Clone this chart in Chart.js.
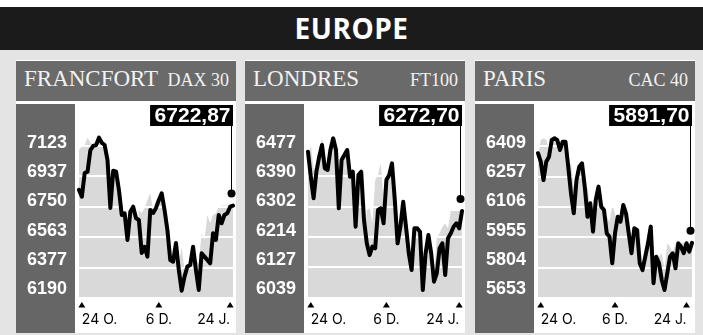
<!DOCTYPE html>
<html lang="fr">
<head>
<meta charset="UTF-8">
<title>Europe</title>
<style>
  body { margin: 0; width: 703px; height: 335px; overflow: hidden; background: #e4e4e4; position: relative; }
  .strip { position: absolute; left: 0; top: 0; width: 703px; height: 7px; background: #fff; }
  header {
    position: absolute; left: 0; top: 7px; width: 703px; height: 43px;
    background: #1b1b1b; color: #fff; text-align: center;
    font: 700 28px "Open Sans", sans-serif; line-height: 43px; letter-spacing: 0.5px;
  }
  .panel { position: absolute; top: 60px; width: 220px; height: 273px; background: #fff; }
  .title {
    position: absolute; left: 0; top: 1px; width: 220px; height: 40px; box-sizing: border-box;
    padding: 0 7px 0 8px; background: #6a6a6a; color: #f2f2f2;
    font-family: "Liberation Serif", serif; line-height: 36px;
    display: flex; justify-content: space-between; align-items: baseline;
  }
  .title .city { font-size: 23px; }
  .title .code { font-size: 18px; }
  .side { position: absolute; left: 0; top: 44px; width: 59px; height: 229px; background: #666; }
  canvas { position: absolute; left: 0; top: 43px; }
</style>
<script src="https://cdn.jsdelivr.net/npm/chart.js"></script>
</head>
<body>
<div class="strip"></div>
<header>EUROPE</header>
<div id="panels"></div>

<script>
const markets = ['FRANCFORT', 'LONDRES', 'PARIS'];
const indexNames = ['DAX 30', 'FT100', 'CAC 40'];
const lastQuotes = [6722.87, 6272.70, 5891.70];
const dateLabels = ['24 O.', '6 D.', '24 J.'];

const daxTicks = [6190, 6377, 6563, 6750, 6937, 7123];
const ftTicks = [6039, 6127, 6214, 6302, 6390, 6477];
const cacTicks = [5653, 5804, 5955, 6106, 6257, 6409];

// position of the three dates in each series
const daxDateIdx = [1, 28, 53];
const ftDateIdx = [1, 28, 54];
const cacDateIdx = [1, 28, 54];

const daxValues = [6823, 6780, 6931, 6940, 7078, 7104, 7110, 7157, 7125, 7110,
  7014, 6708, 6946, 6940, 6823, 6663, 6674, 6503, 6684, 6716,
  6642, 6631, 6420, 6460, 6397, 6695, 6676, 6708, 6759, 6802,
  6695, 6567, 6375, 6364, 6484, 6311, 6179, 6269, 6333, 6343,
  6460, 6311, 6184, 6418, 6397, 6375, 6354, 6546, 6503, 6663,
  6610, 6663, 6674, 6716, 6723];
const ftValues = [6451, 6376, 6311, 6391, 6436, 6471, 6401, 6396, 6456, 6491,
  6456, 6281, 6426, 6441, 6456, 6376, 6391, 6226, 6381, 6391,
  6246, 6176, 6141, 6166, 6161, 6276, 6281, 6236, 6366, 6381,
  6416, 6306, 6176, 6226, 6301, 6226, 6146, 6096, 6221, 6221,
  6211, 6036, 6146, 6201, 6146, 6061, 6086, 6161, 6176, 6081,
  6191, 6206, 6226, 6236, 6221, 6273];
const cacValues = [6356, 6312, 6217, 6312, 6338, 6425, 6433, 6425, 6373, 6416,
  6416, 6286, 6148, 6045, 6217, 6286, 6304, 6183, 6027, 6097,
  5950, 6114, 6183, 6079, 6062, 5941, 5924, 5786, 5941, 6027,
  6001, 6088, 6045, 5941, 5838, 5967, 5959, 5786, 5751, 5820,
  5890, 5976, 5683, 5820, 5786, 5700, 5648, 5734, 5820, 5838,
  5760, 5890, 5872, 5838, 5890, 5846, 5892];

const series = [daxValues, ftValues, cacValues];
const tickSets = [daxTicks, ftTicks, cacTicks];
const dateIdxSets = [daxDateIdx, ftDateIdx, cacDateIdx];
const panelLeft = [16, 245, 475];

// the grey area also reaches a few sessions ahead of the black line
const fillLag = 4;

const panelDecor = {
  id: 'panelDecor',
  beforeDatasetDraw(chart, args, opts) {
    if (args.index === 0) return;
    const a = chart.chartArea, ctx = chart.ctx;
    const top = chart.scales.yGrid.getPixelForValue(opts.ticks[opts.ticks.length - 1]);
    ctx.save();
    ctx.beginPath();
    ctx.rect(a.left, top, a.right - a.left, a.bottom - top);
    ctx.clip();
  },
  afterDatasetDraw(chart, args, opts) {
    if (args.index === 0) return;
    const a = chart.chartArea, ctx = chart.ctx, g = chart.scales.yGrid;
    ctx.restore();
    if (args.index !== 1) return;
    ctx.save();
    ctx.strokeStyle = '#fff';
    ctx.lineWidth = 2;
    opts.ticks.forEach(v => {
      const y = Math.round(g.getPixelForValue(v));
      ctx.beginPath();
      ctx.moveTo(a.left, y);
      ctx.lineTo(a.right + 3, y);
      ctx.stroke();
    });
    ctx.restore();
  },
  afterDraw(chart, args, opts) {
    const ctx = chart.ctx, a = chart.chartArea, xs = chart.scales.x;
    ctx.save();
    ctx.fillStyle = '#000';
    xs.ticks.forEach((t, i) => {
      const px = xs.getPixelForTick(i);
      const ty = xs.top + 4;
      ctx.beginPath();
      ctx.moveTo(px - 3.5, ty + 5.5);
      ctx.lineTo(px + 3.5, ty + 5.5);
      ctx.lineTo(px, ty);
      ctx.closePath();
      ctx.fill();
    });

    const pts = chart.getDatasetMeta(0).data;
    const last = pts[pts.length - 1];
    const text = opts.quote.toFixed(2).replace('.', ',');
    ctx.font = '700 21px "Liberation Sans"';
    const w = ctx.measureText(text).width;
    const boxW = w + 7, boxTop = 2, boxH = 21;
    const right = a.right;
    ctx.fillRect(right - boxW, boxTop, boxW, boxH);
    ctx.fillStyle = '#fff';
    ctx.textAlign = 'right';
    ctx.textBaseline = 'alphabetic';
    ctx.fillText(text, right - 2.5, boxTop + 16.5);

    const dotY = last.y - 12;
    const lx = right - 1.5;
    ctx.strokeStyle = '#000';
    ctx.fillStyle = '#000';
    ctx.lineWidth = 1;
    ctx.beginPath();
    ctx.moveTo(lx, boxTop + boxH);
    ctx.lineTo(lx, dotY);
    ctx.stroke();
    ctx.beginPath();
    ctx.arc(lx, dotY, 4, 0, Math.PI * 2);
    ctx.fill();
    ctx.restore();
  }
};

const holder = document.getElementById('panels');

markets.forEach((name, p) => {
  const panel = document.createElement('div');
  panel.className = 'panel';
  panel.style.left = panelLeft[p] + 'px';
  panel.innerHTML = '<div class="title"><span class="city">' + name + '</span><span class="code">' +
    indexNames[p] + '</span></div><div class="side"></div><canvas width="220" height="230"></canvas>';
  holder.appendChild(panel);

  const values = series[p];
  const ticks = tickSets[p];
  const dateIdx = dateIdxSets[p];
  const labels = values.map(() => '');
  dateIdx.forEach((k, j) => { labels[k] = dateLabels[j]; });

  const lastVal = values[values.length - 1];
  const aheadValues = values.slice(fillLag).concat(Array(fillLag).fill(lastVal));

  const span = ticks[ticks.length - 1] - ticks[0];
  // tick labels sit at 40px and 186px of a 195px plot, grid lines at 43px and 195px
  const pxLab = 146 / span;
  const yMin = ticks[0] - 9 / pxLab;
  const yMax = ticks[ticks.length - 1] + 40 / pxLab;
  const pxGrid = 152 / span;
  const gMax = ticks[ticks.length - 1] + 43 / pxGrid;

  const area = { borderWidth: 0, pointRadius: 0, backgroundColor: '#d9d9d9', fill: 'start', tension: 0 };

  new Chart(panel.querySelector('canvas'), {
    type: 'line',
    data: {
      labels: labels,
      datasets: [
        {
          data: values,
          borderColor: '#000',
          borderWidth: 4,
          borderJoinStyle: 'round',
          borderCapStyle: 'round',
          pointRadius: 0,
          fill: false,
          tension: 0
        },
        Object.assign({ data: values }, area),
        Object.assign({ data: aheadValues }, area)
      ]
    },
    options: {
      responsive: false,
      animation: false,
      events: [],
      layout: { padding: { left: 0, right: 3, top: 0, bottom: 0 } },
      plugins: {
        legend: { display: false },
        tooltip: { enabled: false },
        panelDecor: { ticks: ticks, quote: lastQuotes[p] }
      },
      scales: {
        x: {
          type: 'category',
          grid: { display: false, drawTicks: false },
          border: { display: false },
          ticks: {
            autoSkip: false, maxRotation: 0, align: 'inner', padding: 13,
            color: '#000', font: { family: 'Inter', size: 14 }
          },
          afterBuildTicks: s => { s.ticks = s.ticks.filter(t => dateIdx.includes(t.value)); },
          afterFit: s => { s.height = 35; s.paddingLeft = 0; s.paddingRight = 0; }
        },
        y: {
          type: 'linear',
          min: yMin,
          max: yMax,
          grid: { display: false, drawTicks: false },
          border: { display: false },
          ticks: {
            color: '#fff', padding: 12,
            font: { family: 'Liberation Sans', size: 18, weight: 'bold' },
            callback: v => String(v)
          },
          afterBuildTicks: s => { s.ticks = ticks.map(v => ({ value: v })); },
          afterFit: s => { s.width = 63; s.paddingTop = 0; s.paddingBottom = 0; }
        },
        yGrid: {
          type: 'linear',
          axis: 'y',
          position: 'left',
          display: false,
          min: ticks[0],
          max: gMax
        }
      }
    },
    plugins: [panelDecor]
  });
});
</script>
</body>
</html>
